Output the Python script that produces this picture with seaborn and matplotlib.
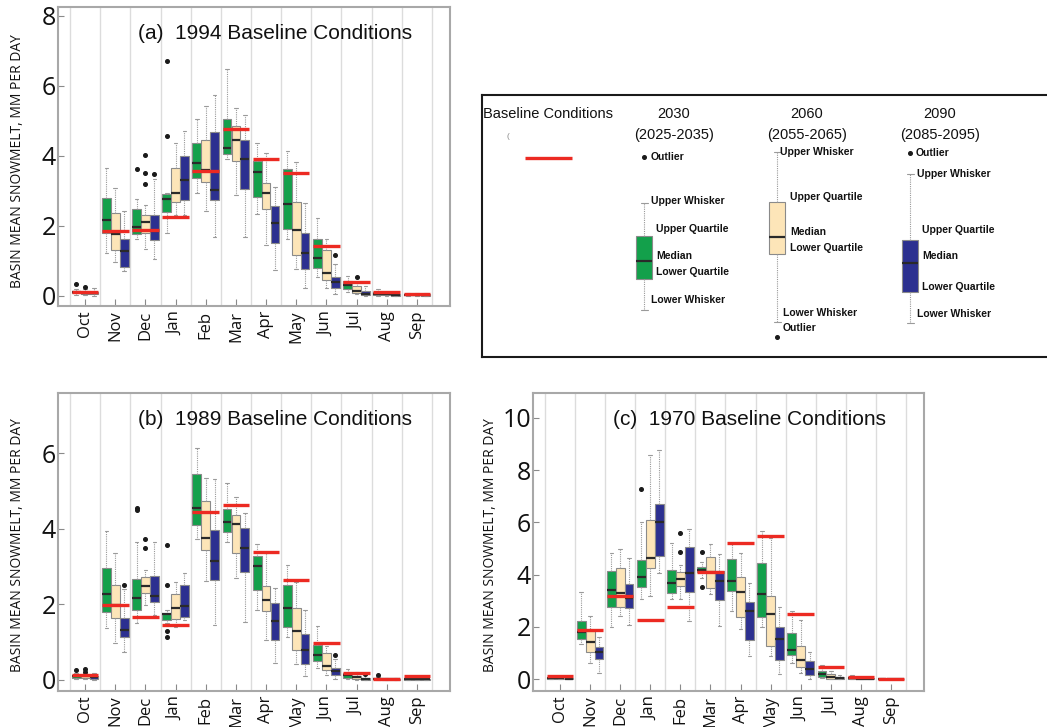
import numpy as np
import matplotlib
matplotlib.use("Agg")
import matplotlib.pyplot as plt
import seaborn as sns

# ---------------------------------------------------------------- data
MONTHS = ["Oct", "Nov", "Dec", "Jan", "Feb", "Mar", "Apr", "May", "Jun", "Jul", "Aug", "Sep"]
SCENARIOS = ["2030", "2060", "2090"]

# Box statistics per month: (lower whisker, lower quartile, median, upper quartile, upper whisker)
# Panel (a): 1994 baseline
A_2030 = [(0.02, 0.06, 0.10, 0.13, 0.20), (1.22, 1.80, 2.15, 2.79, 3.65), (1.61, 1.77, 1.96, 2.48, 2.75),
          (1.78, 2.39, 2.75, 2.89, 2.92), (2.94, 3.37, 3.78, 4.37, 5.04), (3.89, 4.06, 4.21, 5.05, 6.48),
          (2.34, 2.82, 3.54, 3.85, 4.37), (1.61, 1.91, 2.63, 3.61, 4.13), (0.54, 0.79, 1.08, 1.61, 2.23),
          (0.10, 0.19, 0.29, 0.41, 0.57), (0.00, 0.02, 0.05, 0.10, 0.18), (0.00, 0.01, 0.02, 0.05, 0.08)]
A_2060 = [(0.01, 0.05, 0.08, 0.12, 0.18), (0.96, 1.31, 1.77, 2.37, 3.08), (1.34, 1.80, 2.10, 2.29, 2.60),
          (2.29, 2.66, 2.94, 3.65, 4.37), (2.41, 3.25, 3.59, 4.46, 5.42), (2.87, 3.84, 4.46, 4.86, 5.35),
          (1.45, 2.47, 2.94, 3.22, 4.08), (0.75, 1.15, 1.86, 2.68, 3.82), (0.22, 0.45, 0.64, 1.29, 1.61),
          (0.03, 0.08, 0.14, 0.26, 0.40), (0.00, 0.01, 0.03, 0.07, 0.10), (0.00, 0.01, 0.02, 0.04, 0.08)]
A_2090 = [(0.00, 0.03, 0.06, 0.10, 0.22), (0.70, 0.81, 1.27, 1.61, 2.41), (1.03, 1.60, 1.85, 2.29, 3.33),
          (2.29, 2.72, 3.30, 4.00, 4.70), (1.67, 2.72, 3.01, 4.67, 5.74), (1.67, 3.04, 3.90, 4.46, 5.16),
          (0.72, 1.51, 2.06, 2.56, 3.11), (0.22, 0.75, 1.22, 1.80, 2.65), (0.05, 0.22, 0.38, 0.53, 0.91),
          (0.00, 0.01, 0.05, 0.12, 0.26), (0.00, 0.00, 0.02, 0.05, 0.08), (0.00, 0.00, 0.01, 0.04, 0.06)]
A_OUT_2030 = {0: [0.32], 2: [3.63], 3: [4.56, 6.72]}
A_OUT_2060 = {0: [0.25], 2: [3.20, 3.49, 4.02], 9: [0.53]}
A_OUT_2090 = {2: [3.47], 8: [1.15]}
A_BASE = [0.10, 1.84, 1.86, 2.25, 3.56, 4.76, 3.89, 3.49, 1.43, 0.38, 0.09, 0.03]

# Panel (b): 1989 baseline
B_2030 = [(0.02, 0.05, 0.09, 0.12, 0.18), (1.38, 1.80, 2.26, 2.96, 3.94), (1.51, 1.86, 2.17, 2.66, 3.64),
          (1.50, 1.57, 1.73, 1.75, 1.84), (3.73, 4.10, 4.54, 5.44, 6.13), (3.64, 3.92, 4.17, 4.52, 5.22),
          (1.86, 2.37, 3.02, 3.27, 3.61), (1.12, 1.40, 1.90, 2.52, 3.04), (0.31, 0.49, 0.65, 0.91, 1.42),
          (0.01, 0.05, 0.12, 0.18, 0.29), (0.00, 0.01, 0.02, 0.05, 0.08), (0.00, 0.00, 0.02, 0.03, 0.05)]
B_2060 = [(0.02, 0.04, 0.09, 0.12, 0.16), (0.97, 1.64, 1.97, 2.52, 3.35), (1.97, 2.30, 2.48, 2.73, 2.92),
          (1.40, 1.62, 1.91, 2.26, 2.59), (2.61, 3.45, 3.76, 4.73, 5.35), (2.70, 3.35, 4.14, 4.36, 4.85),
          (1.06, 1.82, 2.11, 2.49, 3.35), (0.41, 0.78, 1.28, 1.90, 2.58), (0.12, 0.25, 0.35, 0.71, 0.88),
          (0.00, 0.02, 0.06, 0.10, 0.20), (0.00, 0.00, 0.01, 0.03, 0.05), (0.00, 0.00, 0.01, 0.02, 0.04)]
B_2090 = [(0.00, 0.02, 0.06, 0.09, 0.18), (0.73, 1.13, 1.31, 1.64, 2.40), (1.71, 2.06, 2.22, 2.75, 3.64),
          (1.58, 1.66, 1.96, 2.50, 2.84), (1.44, 2.64, 3.15, 3.98, 5.31), (1.53, 2.86, 3.48, 4.01, 4.41),
          (0.45, 1.04, 1.56, 2.04, 2.42), (0.09, 0.42, 0.80, 1.20, 1.84), (0.03, 0.12, 0.22, 0.31, 0.55),
          (0.00, 0.00, 0.02, 0.05, 0.12), (0.00, 0.00, 0.01, 0.02, 0.04), (0.00, 0.00, 0.01, 0.02, 0.04)]
B_OUT_2030 = {0: [0.25], 2: [4.50, 4.56], 3: [1.13, 1.28, 2.50, 3.57], 10: [0.12]}
B_OUT_2060 = {0: [0.20, 0.27], 2: [3.50, 3.72]}
B_OUT_2090 = {1: [2.50], 8: [0.66], 9: [0.16]}
B_BASE = [0.12, 1.99, 1.65, 1.46, 4.45, 4.63, 3.39, 2.64, 0.96, 0.17, 0.03, 0.09]

# Panel (c): 1970 baseline
C_2030 = [(0.00, 0.01, 0.04, 0.08, 0.12), (1.35, 1.53, 1.82, 2.24, 3.35), (2.01, 2.78, 3.41, 4.14, 4.84),
          (3.06, 3.52, 3.90, 4.56, 6.00), (3.06, 3.31, 3.69, 4.18, 5.22), (3.86, 4.11, 4.18, 4.31, 4.50),
          (2.61, 3.39, 3.76, 4.60, 5.17), (2.01, 2.37, 3.25, 4.43, 5.68), (0.61, 0.93, 1.12, 1.78, 2.62),
          (0.04, 0.10, 0.19, 0.33, 0.55), (0.00, 0.02, 0.04, 0.08, 0.15), (0.00, 0.00, 0.01, 0.02, 0.03)]
C_2060 = [(0.00, 0.01, 0.03, 0.06, 0.10), (0.64, 1.06, 1.41, 1.85, 2.43), (2.43, 2.78, 3.29, 4.24, 4.98),
          (3.18, 4.27, 4.62, 6.09, 8.57), (3.06, 3.57, 3.82, 4.09, 4.37), (3.26, 3.48, 4.11, 4.69, 5.16),
          (1.91, 2.37, 3.32, 3.90, 4.84), (0.87, 1.29, 2.50, 3.18, 5.39), (0.23, 0.45, 0.74, 1.27, 2.27),
          (0.00, 0.01, 0.10, 0.19, 0.32), (0.00, 0.00, 0.02, 0.05, 0.08), (0.00, 0.00, 0.01, 0.01, 0.02)]
C_2090 = [(0.00, 0.00, 0.02, 0.04, 0.06), (0.25, 0.78, 1.03, 1.22, 1.63), (2.08, 2.74, 3.12, 3.63, 4.65),
          (4.08, 4.71, 6.03, 6.70, 8.76), (2.24, 3.32, 4.05, 5.07, 5.73), (2.04, 3.03, 3.76, 4.14, 4.78),
          (0.89, 1.50, 2.62, 2.97, 3.67), (0.19, 0.74, 1.53, 2.01, 2.78), (0.01, 0.17, 0.39, 0.70, 1.06),
          (0.00, 0.01, 0.03, 0.08, 0.15), (0.00, 0.00, 0.01, 0.03, 0.05), (0.00, 0.00, 0.01, 0.01, 0.02)]
C_OUT_2030 = {3: [7.27], 5: [3.54, 4.88]}
C_OUT_2060 = {4: [4.88, 5.58]}
C_OUT_2090 = {}
C_BASE = [0.14, 1.89, 3.20, 2.27, 2.75, 4.10, 5.20, 5.49, 2.48, 0.48, 0.10, 0.01]

# ---------------------------------------------------------------- style
sns.set_theme(style="white")
plt.rcParams["font.family"] = ["Liberation Sans", "DejaVu Sans"]

FILL = {"2030": "#13a04b", "2060": "#fde5b8", "2090": "#2c3090"}
OFFSET = {"2030": -0.295, "2060": 0.0, "2090": 0.295}
BASE_RED = "#ec2a22"
FRAME = "#a8a8a8"
WHISK = "#9a9a9a"

W, H = 1047, 727
fig = plt.figure(figsize=(W / 100, H / 100), dpi=100)


def px_axes(left, top, right, bottom):
    return fig.add_axes([left / W, 1 - bottom / H, (right - left) / W, (bottom - top) / H])


def box_stats(boxes, outliers):
    return [dict(whislo=lo, q1=q1, med=md, q3=q3, whishi=hi, fliers=outliers.get(i, []))
            for i, (lo, q1, md, q3, hi) in enumerate(boxes)]


def draw_boxes(ax, stats, positions, width, color, capw):
    ax.bxp(stats, positions=positions, widths=width, capwidths=capw, patch_artist=True,
           showfliers=True, manage_ticks=False,
           boxprops=dict(facecolor=color, edgecolor="#8a8a8a", linewidth=0.8),
           medianprops=dict(color="#2a2a2a", linewidth=1.6, solid_capstyle="butt"),
           whiskerprops=dict(color=WHISK, linewidth=0.8, linestyle=(0, (1, 1))),
           capprops=dict(color=WHISK, linewidth=0.8),
           flierprops=dict(marker="o", markersize=2.6, markerfacecolor="#1a1a1a",
                           markeredgecolor="#1a1a1a", linestyle="none"))


def draw_panel(ax, series, outliers, base, ylim, yticks, title):
    x = np.arange(len(MONTHS))
    for g in np.arange(-0.5, len(MONTHS), 1.0):
        ax.axvline(g, color="#dcdcdc", lw=1.0, zorder=0)
    for scen, boxes, outs in zip(SCENARIOS, series, outliers):
        draw_boxes(ax, box_stats(boxes, outs), x + OFFSET[scen], 0.29, FILL[scen], 0.12)
    ax.hlines(base, x - 0.44, x + 0.44, color=BASE_RED, lw=2.4, zorder=6)

    ax.set_xlim(-0.9, 12.1)
    ax.set_ylim(*ylim)
    ax.set_xticks(x)
    ax.set_xticklabels(MONTHS, rotation=90, fontsize=12, fontfamily="Open Sans")
    ax.set_yticks(yticks)
    ax.set_yticklabels([str(v) for v in yticks], fontsize=18, fontfamily="Open Sans")
    ax.tick_params(axis="x", bottom=True, direction="in", length=5, width=0.8,
                   color="#8a8a8a", pad=3.5, labelcolor="#111111")
    ax.tick_params(axis="y", left=True, direction="in", length=4, width=0.8,
                   color="#8a8a8a", pad=1.5, labelcolor="#111111")
    for sp in ax.spines.values():
        sp.set_color(FRAME)
        sp.set_linewidth(1.5)
    ax.text(0.204, 0.91, title, transform=ax.transAxes, fontsize=15,
            ha="left", va="center", color="#111111")


ax_a = px_axes(58, 7, 450, 306)
draw_panel(ax_a, [A_2030, A_2060, A_2090], [A_OUT_2030, A_OUT_2060, A_OUT_2090], A_BASE,
           (-0.3, 8.25), [0, 2, 4, 6, 8], "(a)  1994 Baseline Conditions")

ax_b = px_axes(58, 393, 450, 691)
draw_panel(ax_b, [B_2030, B_2060, B_2090], [B_OUT_2030, B_OUT_2060, B_OUT_2090], B_BASE,
           (-0.3, 7.6), [0, 2, 4, 6], "(b)  1989 Baseline Conditions")

ax_c = px_axes(533, 393, 924, 691)
draw_panel(ax_c, [C_2030, C_2060, C_2090], [C_OUT_2030, C_OUT_2060, C_OUT_2090], C_BASE,
           (-0.45, 10.95), [0, 2, 4, 6, 8, 10], "(c)  1970 Baseline Conditions")

YLABEL = "BASIN MEAN SNOWMELT, MM PER DAY"
for xc, yc in [(18, 161), (18, 545), (491, 545)]:
    fig.text(xc / W, 1 - yc / H, YLABEL, rotation=90, ha="center", va="center",
             fontsize=10, fontfamily="Open Sans", color="#111111")

# ---------------------------------------------------------------- key panel
key = px_axes(482, 95, 1052, 357)
key.set_xlim(482, 1052)
key.set_ylim(357, 95)
key.set_xticks([])
key.set_yticks([])
key.set_facecolor("white")
for sp in key.spines.values():
    sp.set_color("#1a1a1a")
    sp.set_linewidth(1.5)

KEY_POS = {"2030": 644, "2060": 777, "2090": 910}
KEY_BOX = {"2030": dict(whislo=310, q1=279, med=261, q3=236, whishi=203, fliers=[157]),
           "2060": dict(whislo=322, q1=254, med=237, q3=202, whishi=152, fliers=[337]),
           "2090": dict(whislo=323, q1=292, med=263, q3=240, whishi=174, fliers=[153])}
KEY_PERIOD = {"2030": "(2025-2035)", "2060": "(2055-2065)", "2090": "(2085-2095)"}
KEY_NOTES = {
    "2030": [("Outlier", 651, 157), ("Upper Whisker", 651, 201), ("Upper Quartile", 656, 229),
             ("Median", 656, 256), ("Lower Quartile", 656, 272), ("Lower Whisker", 651, 300)],
    "2060": [("Upper Whisker", 780, 152), ("Upper Quartile", 790, 197), ("Median", 790, 232),
             ("Lower Quartile", 790, 248), ("Lower Whisker", 783, 313), ("Outlier", 783, 328)],
    "2090": [("Outlier", 916, 153), ("Upper Whisker", 917, 174), ("Upper Quartile", 922, 230),
             ("Median", 922, 256), ("Lower Quartile", 922, 287), ("Lower Whisker", 917, 314)],
}

key.text(483, 114, "Baseline Conditions", fontsize=10.5, ha="left", va="center", color="#111111")
key.text(508, 137, "(", fontsize=6, ha="center", va="center", color="#888888")
key.hlines(158, 525, 572, color=BASE_RED, lw=2.4)

for scen in SCENARIOS:
    cx = KEY_POS[scen]
    draw_boxes(key, [KEY_BOX[scen]], [cx], 16.5, FILL[scen], 7)
    key.text(cx + 30, 114, scen, fontsize=10.5, ha="center", va="center", color="#111111")
    key.text(cx + 30, 135, KEY_PERIOD[scen], fontsize=10.5, ha="center", va="center", color="#111111")
    for label, tx, ty in KEY_NOTES[scen]:
        key.text(tx, ty, label, fontsize=7.5, fontweight="bold", ha="left", va="center",
                 color="#111111")

fig.savefig("out.png", dpi=100)
